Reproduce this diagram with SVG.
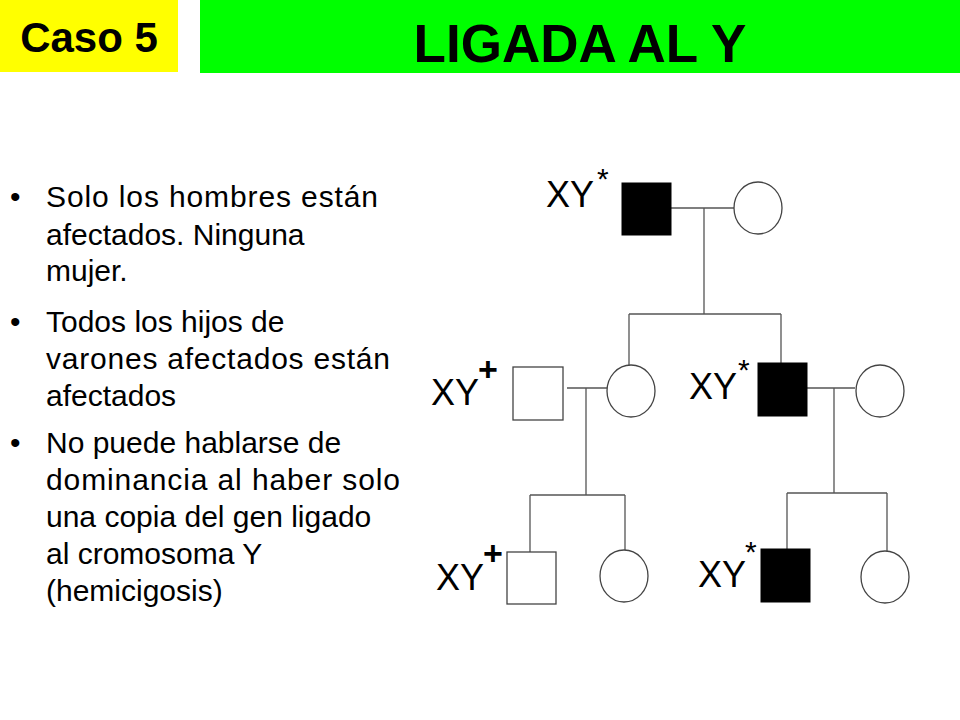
<svg xmlns="http://www.w3.org/2000/svg" width="960" height="720" viewBox="0 0 960 720">
<style>
text{font-family:"Liberation Sans",Arial,sans-serif;fill:#000}
.b{font-size:30px}
.l{font-size:36px}
.s{font-size:30px}
.p{font-size:34px}
.ln{stroke:#555;stroke-width:1.3;fill:none}
.f{fill:#000;stroke:#000}
.e{fill:#fff;stroke:#444;stroke-width:1.3}
</style>
<rect width="960" height="720" fill="#fff"/>
<g id="header">
<rect x="0" y="0" width="178" height="72" fill="#ffff00"/>
<text x="89" y="52" font-size="42" font-weight="bold" text-anchor="middle">Caso 5</text>
<rect x="200" y="0" width="760" height="73" fill="#00ff00"/>
<text x="580" y="62" font-size="53" font-weight="bold" text-anchor="middle">LIGADA AL Y</text>
</g>
<g id="bullets">
<text class="b" x="10" y="207">•</text>
<text class="b" x="46" y="207" textLength="332">Solo los hombres están</text>
<text class="b" x="46" y="245">afectados. Ninguna</text>
<text class="b" x="46" y="281">mujer.</text>
<text class="b" x="10" y="332">•</text>
<text class="b" x="46" y="332">Todos los hijos de</text>
<text class="b" x="46" y="369" textLength="344">varones afectados están</text>
<text class="b" x="46" y="406">afectados</text>
<text class="b" x="10" y="453">•</text>
<text class="b" x="46" y="453">No puede hablarse de</text>
<text class="b" x="46" y="490" textLength="354">dominancia al haber solo</text>
<text class="b" x="46" y="527">una copia del gen ligado</text>
<text class="b" x="46" y="564">al cromosoma Y</text>
<text class="b" x="46" y="601">(hemicigosis)</text>
</g>
<g id="connectors">
<path class="ln" d="M671 208H734M704 208V314M629 314H781M629 314V367M781 314V363"/>
<path class="ln" d="M567 388H607M586 388V495M530 495H625M530 495V552M625 495V552"/>
<path class="ln" d="M807 388H855M834 388V493M787 493H887M787 493V549M887 493V553"/>
</g>
<g id="n1"><rect class="f" x="622" y="183" width="49" height="52"/><text class="l" x="546" y="207">XY</text><text class="s" x="597" y="189">*</text></g>
<g id="n2"><ellipse class="e" cx="758" cy="208" rx="24" ry="26"/></g>
<g id="n3"><rect class="e" x="513" y="367" width="50" height="53"/><text class="l" x="431" y="405">XY</text><text class="p" x="478" y="381" font-weight="bold">+</text></g>
<g id="n4"><ellipse class="e" cx="631" cy="391" rx="24" ry="26"/></g>
<g id="n5"><rect class="f" x="758" y="363" width="49" height="53"/><text class="l" x="689" y="399">XY</text><text class="s" x="738" y="380">*</text></g>
<g id="n6"><ellipse class="e" cx="880" cy="391" rx="24" ry="26"/></g>
<g id="n7"><rect class="e" x="507" y="552" width="49" height="52"/><text class="l" x="436" y="590">XY</text><text class="p" x="483" y="565" font-weight="bold">+</text></g>
<g id="n8"><ellipse class="e" cx="624" cy="576" rx="24" ry="26"/></g>
<g id="n9"><rect class="f" x="761" y="549" width="49" height="53"/><text class="l" x="698" y="587">XY</text><text class="s" x="745" y="562">*</text></g>
<g id="n10"><ellipse class="e" cx="885" cy="577" rx="24" ry="26"/></g>
</svg>
